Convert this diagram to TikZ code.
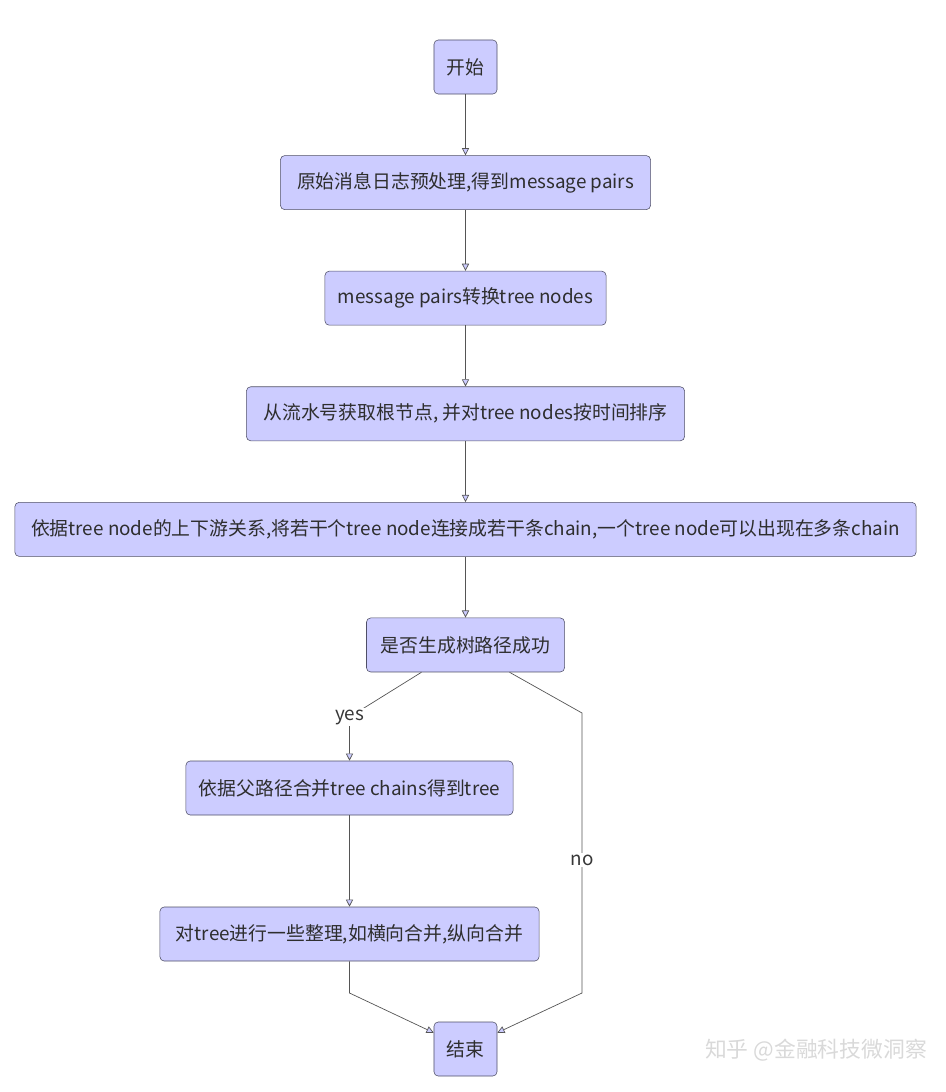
\documentclass[tikz,border=0pt]{standalone}
\usepackage{fontspec}
\setmainfont{Noto Sans CJK SC}
\usetikzlibrary{arrows.meta,positioning,calc}
\definecolor{boxfill}{HTML}{CCCCFF}
\definecolor{boxline}{HTML}{4F4F66}
\definecolor{flowline}{HTML}{555555}
\tikzset{
    stepbox/.style={draw=boxline, fill=boxfill, rounded corners=3pt, minimum height=1.35cm, inner sep=0pt, font=\fontsize{13.4}{15}\selectfont, text=black!82},
    flow/.style={-{Triangle[open, length=1.8mm, width=1.8mm, fill=boxfill]}, draw=flowline, line width=0.5pt},
    branch/.style={fill=white, inner sep=1pt, font=\fontsize{13.4}{15}\selectfont, text=black!78}
}

\begin{document}
\begin{tikzpicture}[x=0.025cm, y=-0.025cm, node distance=1.525cm]
\useasboundingbox (0,0) rectangle (946,1092);
\node[stepbox, minimum width=1.575cm] (start) at (465.5,67) {开始};
\node[stepbox, minimum width=9.25cm, below=of start] (prep) {原始消息日志预处理,得到message pairs};
\node[stepbox, minimum width=7.025cm, below=of prep] (convert) {message pairs转换tree nodes};
\node[stepbox, minimum width=10.95cm, below=of convert] (sortnodes) {从流水号获取根节点, 并对tree nodes按时间排序};
\node[stepbox, minimum width=22.525cm, below=of sortnodes] (chains) {依据tree node的上下游关系,将若干个tree node连接成若干条chain,一个tree node可以出现在多条chain};
\node[stepbox, minimum width=4.95cm, below=of chains] (decide) {是否生成树路径成功};
\node[stepbox, minimum width=8.175cm] (merge) at (349.5,788) {依据父路径合并tree chains得到tree};
\node[stepbox, minimum width=9.475cm] (tidy) at (349.5,934) {对tree进行一些整理,如横向合并,纵向合并};
\node[stepbox, minimum width=1.575cm] (finish) at (465.5,1049) {结束};
\node[text=gray!30, font=\fontsize{15.5}{18}\selectfont] (watermark) at (816,1050) {知乎 @金融科技微洞察};

\coordinate (yesbend) at (349.5,717);
\coordinate (notop) at (582,713);
\coordinate (nobottom) at (582,993);
\coordinate (tidybend) at (349.5,993);

\draw[flow] (start) -- (prep);
\draw[flow] (prep) -- (convert);
\draw[flow] (convert) -- (sortnodes);
\draw[flow] (sortnodes) -- (chains);
\draw[flow] (chains) -- (decide);
\draw[flow] ([xshift=-1.1cm]decide.south) -- (yesbend) -- (merge.north);
\draw[flow] ([xshift=1.1cm]decide.south) -- (notop) -- (nobottom) -- ([yshift=-0.275cm]finish.north east);
\draw[flow] (merge) -- (tidy);
\draw[flow] (tidy.south) -- (tidybend) -- ([yshift=-0.275cm]finish.north west);
\node[branch] (yeslabel) at (yesbend) {yes};
\node[branch] (nolabel) at (582,860) {no};
\end{tikzpicture}
\end{document}
